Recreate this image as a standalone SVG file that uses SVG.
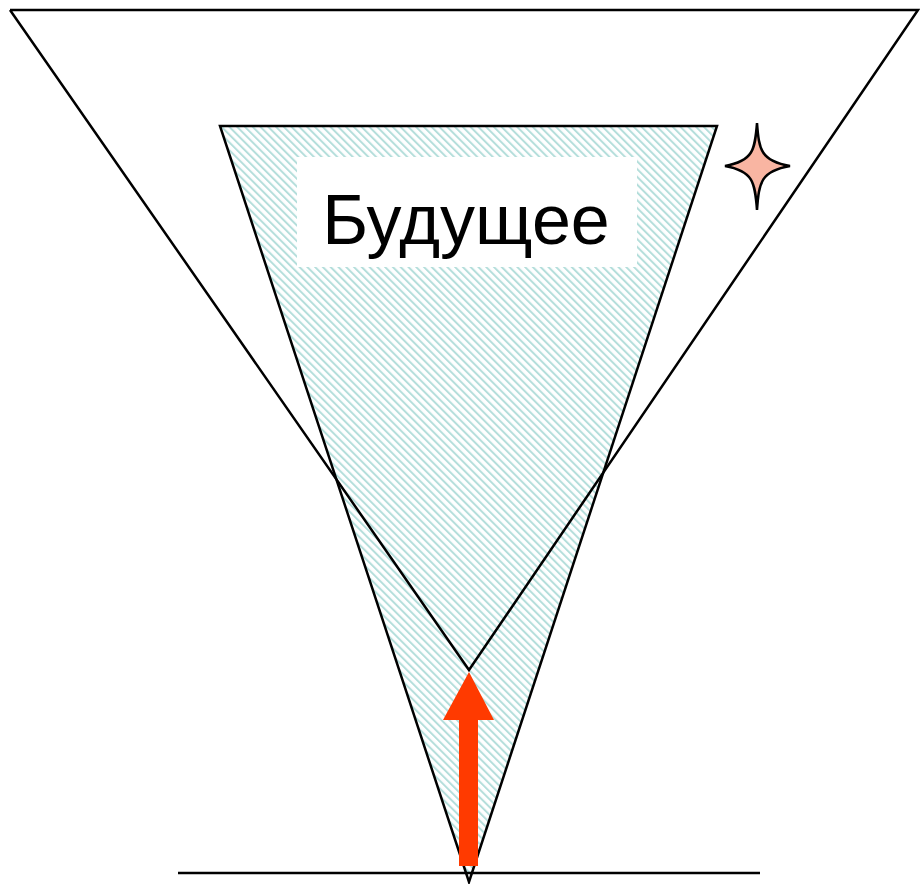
<svg xmlns="http://www.w3.org/2000/svg" width="920" height="884" viewBox="0 0 920 884">
<defs>
<pattern id="hatch" width="5.5" height="5.5" patternUnits="userSpaceOnUse" patternTransform="rotate(-45)">
<rect width="5.5" height="5.5" fill="#ffffff"/>
<rect x="0" y="0" width="2" height="5.5" fill="#b4dedb"/>
</pattern>
<style>
.ln{fill:none;stroke:#000;stroke-width:2.5}
</style>
</defs>
<rect width="920" height="884" fill="#fff"/>
<g id="future-cone">
<polygon points="220,126 717,126 469,882" fill="url(#hatch)" stroke="#000" stroke-width="2.5"/>
</g>
<g id="label">
<rect x="297" y="157" width="340" height="110" fill="#fff"/>
<text x="466" y="244" text-anchor="middle" font-family="Liberation Sans, Arial, sans-serif" font-size="70" fill="#000">Будущее</text>
</g>
<g id="light-cone">
<polyline class="ln" points="10,10 918,10 469,670 10,10"/>
</g>
<g id="baseline">
<line class="ln" x1="178" y1="873" x2="760" y2="873"/>
</g>
<g id="star">
<path d="M757,123 C759,150 761,161 790,166 C761,171 759,182 757,210 C755,182 753,171 725,166 C753,161 755,150 757,123 Z" fill="#f9b5a2" stroke="#000" stroke-width="2.5" stroke-linejoin="miter"/>
</g>
<g id="arrow">
<polygon points="459,866 478,866 478,720 494,720 469,672 443,720 459,720" fill="#ff3a00"/>
</g>
</svg>
